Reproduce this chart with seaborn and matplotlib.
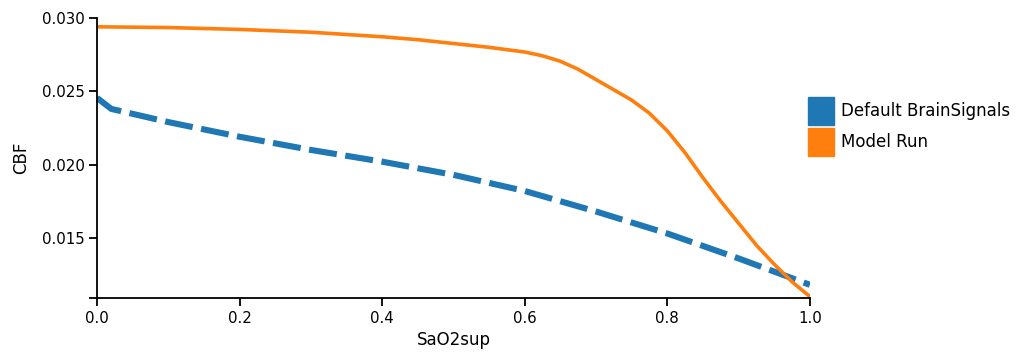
import matplotlib
matplotlib.use("Agg")
import matplotlib.pyplot as plt
import matplotlib.patches as mpatches
import seaborn as sns
import pandas as pd

# values
default_x = [0.0, 0.02, 0.1, 0.2, 0.3, 0.4, 0.5, 0.6, 0.7, 0.8, 0.9, 1.0]
default_cbf = [0.02455, 0.0238, 0.0229, 0.0219, 0.0210, 0.0202, 0.0193,
               0.0182, 0.0168, 0.0153, 0.0136, 0.0118]

model_x = [0.0, 0.1, 0.2, 0.3, 0.4, 0.45, 0.5, 0.55, 0.6, 0.625, 0.65, 0.675,
           0.7, 0.725, 0.75, 0.775, 0.8, 0.825, 0.85, 0.875, 0.9, 0.925,
           0.95, 0.975, 1.0]
model_cbf = [0.02940, 0.02935, 0.02922, 0.02903, 0.02872, 0.02852, 0.02826,
             0.02800, 0.02768, 0.02742, 0.02705, 0.02650, 0.0258, 0.0251,
             0.0244, 0.0235, 0.0223, 0.0208, 0.0191, 0.0175, 0.0160, 0.0145,
             0.0132, 0.0120, 0.0110]

series_names = ["Default BrainSignals", "Model Run"]
colors = ["#1f77b4", "#ff7f0e"]

sns.set_theme(style="white")
plt.rcParams['font.family'] = ['DejaVu Sans']
plt.rcParams['text.color'] = 'black'
plt.rcParams['axes.labelcolor'] = 'black'

df_default = pd.DataFrame({'SaO2sup': default_x, 'CBF': default_cbf})
df_model = pd.DataFrame({'SaO2sup': model_x, 'CBF': model_cbf})

fig = plt.figure(figsize=(10.19, 3.53), dpi=100)
ax = fig.add_axes([0.0952, 0.1558, 0.6996, 0.7932])

sns.lineplot(data=df_default, x='SaO2sup', y='CBF', ax=ax, color=colors[0],
             linewidth=4.4, sort=False)
ax.lines[-1].set_dashes([4.6, 1.4])
sns.lineplot(data=df_model, x='SaO2sup', y='CBF', ax=ax, color=colors[1],
             linewidth=2.6, sort=False)

ax.set_xlim(0, 1.0)
ax.set_ylim(0.0109, 0.030)
ax.set_xticks([0.0, 0.2, 0.4, 0.6, 0.8, 1.0])
ax.set_xticklabels(['0.0', '0.2', '0.4', '0.6', '0.8', '1.0'])
ax.set_yticks([0.015, 0.020, 0.025, 0.030])
ax.set_yticklabels(['0.015', '0.020', '0.025', '0.030'])
ax.set_yticks([0.0109], minor=True)
ax.tick_params(axis='both', which='both', direction='out', length=6, width=1.3,
               color='black', labelsize=10.8, labelcolor='black', pad=3,
               bottom=True, left=True)
ax.tick_params(axis='y', which='minor', labelleft=False)

for side in ['top', 'right']:
    ax.spines[side].set_visible(False)
for side in ['left', 'bottom']:
    ax.spines[side].set_color('black')
    ax.spines[side].set_linewidth(1.3)

ax.set_xlabel('SaO2sup', fontsize=12, color='black', labelpad=4)
ax.set_ylabel('CBF', fontsize=12, color='black', labelpad=8)

handles = [mpatches.Patch(color=c, label=n) for c, n in zip(colors, series_names)]
fig.legend(handles=handles, loc='upper left', bbox_to_anchor=(0.7865, 0.745),
           frameon=False, fontsize=12, handlelength=1.56, handleheight=2.2,
           handletextpad=0.4, labelspacing=0.2, borderaxespad=0,
           labelcolor='black')

fig.savefig('out.png', dpi=100)
plt.close(fig)
